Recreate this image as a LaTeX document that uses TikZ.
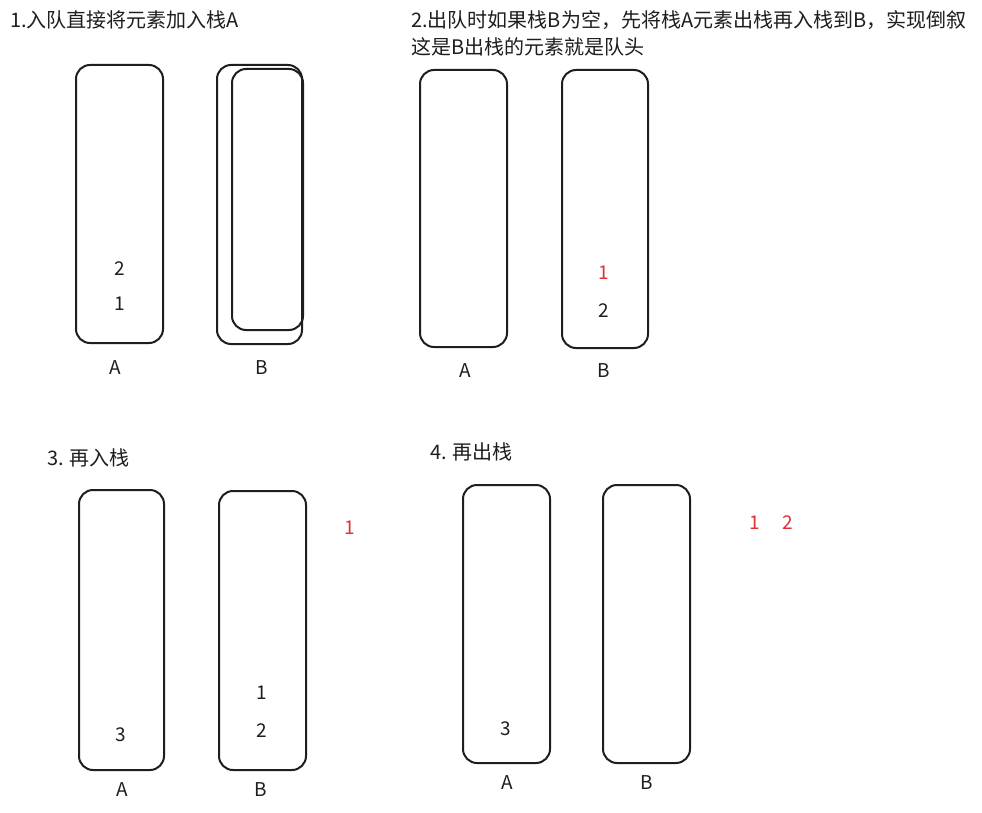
\documentclass[tikz,border=0pt]{standalone}
\usepackage{fontspec}
\setmainfont{Noto Sans CJK SC}
\definecolor{ink}{HTML}{1E1E1E}
\definecolor{redink}{HTML}{E03131}
\begin{document}
\begin{tikzpicture}[x=1pt,y=-1pt,
  stackbox/.style={draw=ink,line width=2pt,rounded corners=14pt},
  title/.style={anchor=west,font=\fontsize{20}{24}\selectfont,text=ink,inner sep=0pt},
  num/.style={font=\fontsize{19}{22}\selectfont,text=ink,inner sep=0pt},
  rednum/.style={font=\fontsize{19}{22}\selectfont,text=redink,inner sep=0pt},
  lab/.style={font=\fontsize{19}{22}\selectfont,text=ink,inner sep=0pt}]
\useasboundingbox[fill=white] (0,0) rectangle (982,813);
% Panel 1
\node[title] (t1) at (10,20) {1.入队直接将元素加入栈A};
\draw[stackbox] (76,65) rectangle (163,343);
\draw[stackbox] (217,65) rectangle (302,344);
\draw[stackbox] (232,69) rectangle (303,330);
\node[num] (p1n2) at (120,269) {2};
\node[num] (p1n1) at (120,304) {1};
\node[lab] (p1A) at (115,368) {A};
\node[lab] (p1B) at (262,368) {B};
% Panel 2
\node[title] (t2) at (411,20) {2.出队时如果栈B为空，先将栈A元素出栈再入栈到B，实现倒叙};
\node[title] (t2b) at (411,47) {这是B出栈的元素就是队头};
\draw[stackbox] (420,70) rectangle (507,347);
\draw[stackbox] (562,70) rectangle (648,348);
\node[rednum] (p2n1) at (604,273) {1};
\node[num] (p2n2) at (604,311) {2};
\node[lab] (p2A) at (465,371) {A};
\node[lab] (p2B) at (604,371) {B};
% Panel 3
\node[title] (t3) at (47,458) {3. 再入栈};
\draw[stackbox] (79,490) rectangle (164,770);
\draw[stackbox] (219,491) rectangle (306,770);
\node[rednum] (p3r1) at (350,528) {1};
\node[num] (p3n1) at (262,693) {1};
\node[num] (p3n2) at (262,731) {2};
\node[num] (p3n3) at (121,735) {3};
\node[lab] (p3A) at (122,790) {A};
\node[lab] (p3B) at (261,790) {B};
% Panel 4
\node[title] (t4) at (430,452) {4. 再出栈};
\draw[stackbox] (463,485) rectangle (550,763);
\draw[stackbox] (603,485) rectangle (690,763);
\node[num] (p4n3) at (506,729) {3};
\node[rednum] (p4r1) at (755,523) {1};
\node[rednum] (p4r2) at (788,523) {2};
\node[lab] (p4A) at (507,783) {A};
\node[lab] (p4B) at (647,783) {B};
\end{tikzpicture}
\end{document}
